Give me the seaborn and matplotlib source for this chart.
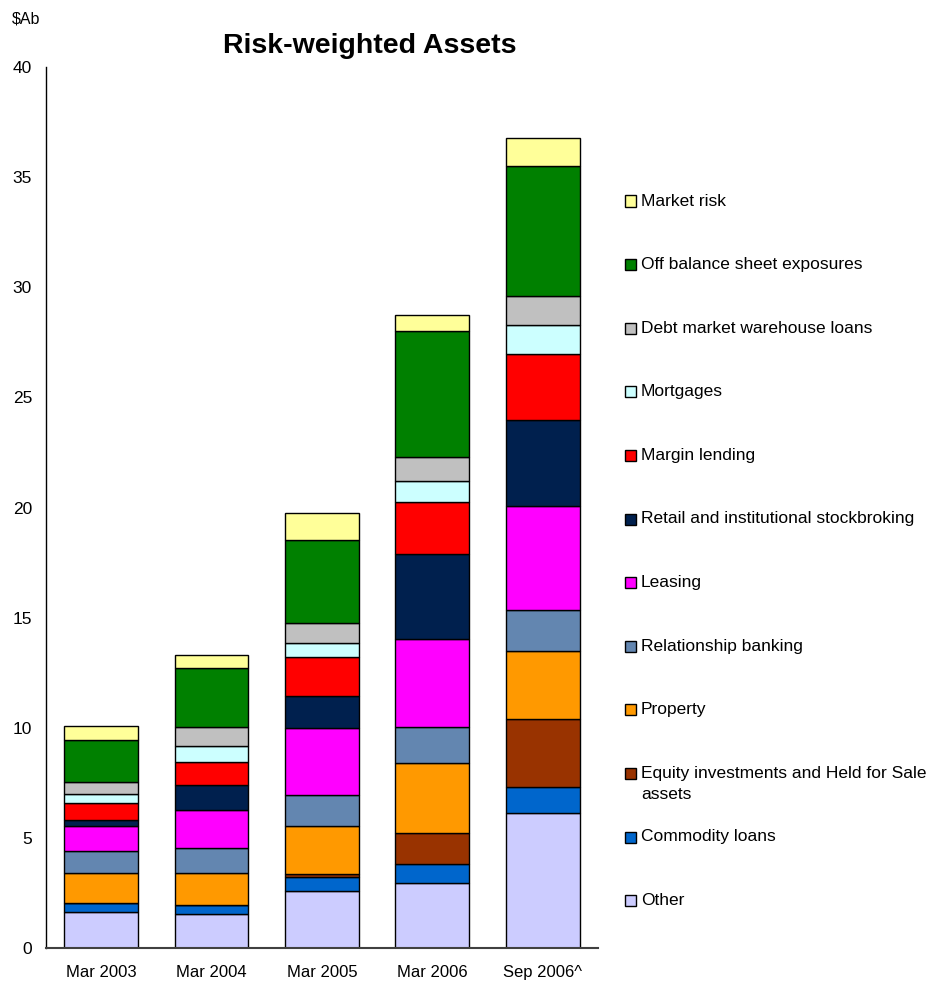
import pandas as pd
import matplotlib.pyplot as plt
import seaborn as sns
from matplotlib.patches import Rectangle

sns.set_theme(style="white")
plt.rcParams['font.family'] = ['Liberation Sans', 'DejaVu Sans']
plt.rcParams['text.color'] = 'black'
plt.rcParams['xtick.color'] = 'black'
plt.rcParams['ytick.color'] = 'black'

# Periodos e categorias (de cima para baixo na pilha)
periodos = ["Mar 2003", "Mar 2004", "Mar 2005", "Mar 2006", "Sep 2006^"]
categorias = [
    "Market risk",
    "Off balance sheet exposures",
    "Debt market warehouse loans",
    "Mortgages",
    "Margin lending",
    "Retail and institutional stockbroking",
    "Leasing",
    "Relationship banking",
    "Property",
    "Equity investments and Held for Sale\nassets",
    "Commodity loans",
    "Other",
]
cores = [
    "#FFFF99", "#008000", "#C0C0C0", "#CCFFFF", "#FF0000", "#00204E",
    "#FF00FF", "#6386B0", "#FF9900", "#993300", "#0066CC", "#CCCCFF",
]

# Valores em $Ab, por categoria (mesma ordem de categorias)
market_risk = [0.63, 0.59, 1.22, 0.75, 1.29]
off_balance = [1.92, 2.66, 3.76, 5.69, 5.88]
debt_market = [0.51, 0.86, 0.93, 1.11, 1.33]
mortgages = [0.43, 0.73, 0.60, 0.94, 1.33]
margin_lending = [0.77, 1.06, 1.77, 2.37, 2.99]
stockbroking = [0.28, 1.13, 1.49, 3.87, 3.90]
leasing = [1.11, 1.73, 3.04, 3.97, 4.72]
relationship = [1.00, 1.13, 1.38, 1.66, 1.87]
property_ = [1.39, 1.46, 2.19, 3.18, 3.08]
equity = [0.00, 0.00, 0.15, 1.40, 3.08]
commodity = [0.41, 0.41, 0.61, 0.87, 1.19]
other = [1.62, 1.54, 2.60, 2.94, 6.13]

valores = [market_risk, off_balance, debt_market, mortgages, margin_lending,
           stockbroking, leasing, relationship, property_, equity, commodity, other]

linhas = []
for cat, vals in zip(categorias, valores):
    for p, v in zip(periodos, vals):
        linhas.append({"periodo": p, "categoria": cat, "valor": v})
df = pd.DataFrame(linhas)

W, H = 937, 986
fig = plt.figure(figsize=(W / 100, H / 100), dpi=100)
ax = fig.add_axes([0.049, 0.0385, 0.589, 0.8935])

sns.histplot(data=df, x="periodo", weights="valor", hue="categoria",
             hue_order=categorias, palette=dict(zip(categorias, cores)),
             multiple="stack", discrete=True, shrink=0.67, alpha=1,
             edgecolor="black", linewidth=1, legend=False, ax=ax)

ax.set_xlim(-0.5, 4.5)
ax.set_ylim(0, 40)
ax.set_yticks(range(0, 41, 5))
ax.set_xlabel("")
ax.set_ylabel("")
ax.tick_params(axis="both", labelsize=12, length=0)
ax.tick_params(axis="y", pad=10, labelsize=12.5)
ax.tick_params(axis="x", pad=12)
for s in ["top", "right"]:
    ax.spines[s].set_visible(False)
ax.spines["left"].set_color("black")
ax.spines["bottom"].set_color("#404040")
ax.spines["left"].set_linewidth(1)
ax.spines["bottom"].set_linewidth(1.5)

fig.text(0.395, 0.953, "Risk-weighted Assets", ha="center", va="center",
         fontsize=20.5, fontweight="bold")
fig.text(0.013, 0.981, "$Ab", ha="left", va="center", fontsize=11.5)

# Legenda manual: quadrado alinhado com a primeira linha do texto
y0, passo, entrelinha = 201, 63.6, 21
for i, (cat, cor) in enumerate(zip(categorias, cores)):
    yc = y0 + passo * i
    fig.patches.append(Rectangle((625 / W, 1 - (yc + 5.5) / H), 11 / W, 11 / H,
                                 facecolor=cor, edgecolor="black", linewidth=1,
                                 transform=fig.transFigure, figure=fig))
    for j, parte in enumerate(cat.split("\n")):
        fig.text(641 / W, 1 - (yc + j * entrelinha) / H, parte,
                 ha="left", va="center", fontsize=12.5)

fig.savefig("out.png", dpi=100)
